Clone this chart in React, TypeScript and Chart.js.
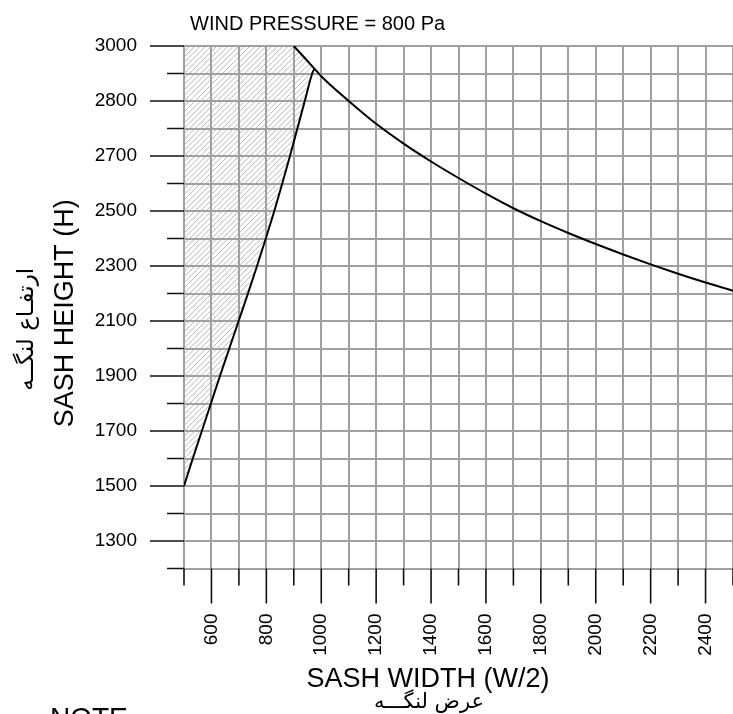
import React, { useEffect, useRef } from 'react';
import { Chart, registerables } from 'chart.js';

Chart.register(...registerables);

const TITLE = 'WIND PRESSURE = 800 Pa';
const X_TITLE = 'SASH WIDTH (W/2)';
const X_TITLE_FA = 'عرض لنگـــه';
const Y_TITLE = 'SASH HEIGHT (H)';
const Y_TITLE_FA = 'ارتفـاع لنگــه';
const NOTE = 'NOTE';

const X_MIN = 500;
const X_MAX = 2500;
const Y_MIN = 1200;
const Y_MAX = 3100;
const STEP = 100;

const xLabelValues = [600, 800, 1000, 1200, 1400, 1600, 1800, 2000, 2200, 2400];
const xLabelTexts = ['600', '800', '1000', '1200', '1400', '1600', '1800', '2000', '2200', '2400'];
const yLabelValues = [1300, 1500, 1700, 1900, 2100, 2300, 2500, 2700, 2900, 3100];
const yLabelTexts = ['1300', '1500', '1700', '1900', '2100', '2300', '2500', '2700', '2800', '3000'];

// rising limit curve (left)
const risingW = [500, 532, 565, 598, 631, 665, 699, 733, 766, 798, 829, 858, 886, 913, 940, 967, 975];
const risingH = [1500, 1600, 1700, 1800, 1900, 2000, 2100, 2200, 2300, 2400, 2500, 2600, 2700, 2800, 2900, 3000, 3018];
// falling limit curve (right)
const fallingW = [900, 975, 1000, 1100, 1200, 1300, 1400, 1500, 1600, 1700, 1800, 1900, 2000, 2100, 2200, 2300, 2400, 2500];
const fallingH = [3100, 3018, 2990, 2900, 2817, 2745, 2680, 2620, 2563, 2510, 2463, 2420, 2380, 2342, 2306, 2272, 2240, 2210];

const FONT = '"Liberation Sans", Arial, Helvetica, sans-serif';
const FA_FONT = '"DejaVu Sans", "Noto Sans", sans-serif';
const GRID = '#a0a0a0';

const hatchPlugin = {
  id: 'hatch',
  beforeDraw(chart: any) {
    const { ctx, chartArea } = chart;
    const xs = chart.scales.x;
    const ys = chart.scales.y;
    const poly: number[][] = [[X_MIN, Y_MAX], [fallingW[0], fallingH[0]], [fallingW[1], fallingH[1]]];
    for (let i = risingW.length - 2; i >= 0; i--) poly.push([risingW[i], risingH[i]]);
    ctx.save();
    ctx.beginPath();
    poly.forEach(([a, b], i) => {
      const px = xs.getPixelForValue(a);
      const py = ys.getPixelForValue(b);
      if (i === 0) ctx.moveTo(px, py);
      else ctx.lineTo(px, py);
    });
    ctx.closePath();
    ctx.clip();
    ctx.strokeStyle = '#b8b8b8';
    ctx.lineWidth = 1;
    const { left, top, right, bottom } = chartArea;
    const h = bottom - top;
    ctx.beginPath();
    for (let s = left - h; s < right; s += 5.5) {
      ctx.moveTo(s, bottom);
      ctx.lineTo(s + h, top);
    }
    ctx.stroke();
    ctx.restore();
  },
};

const tickPlugin = {
  id: 'tickMarks',
  afterDraw(chart: any) {
    const { ctx, chartArea } = chart;
    const xs = chart.scales.x;
    const ys = chart.scales.y;
    ctx.save();
    ctx.strokeStyle = '#111';
    ctx.lineWidth = 1.6;
    ctx.beginPath();
    xs.ticks.forEach((t: any) => {
      const px = xs.getPixelForValue(t.value);
      const len = t.label ? 35 : 17;
      ctx.moveTo(px, chartArea.bottom);
      ctx.lineTo(px, chartArea.bottom + len);
    });
    ys.ticks.forEach((t: any) => {
      const py = ys.getPixelForValue(t.value);
      const len = t.label ? 34 : 17;
      ctx.moveTo(chartArea.left - len, py);
      ctx.lineTo(chartArea.left, py);
    });
    ctx.stroke();
    ctx.restore();
  },
};

const textPlugin = {
  id: 'texts',
  afterDraw(chart: any) {
    const { ctx, chartArea } = chart;
    const L = chartArea.left;
    const T = chartArea.top;
    const B = chartArea.bottom;
    ctx.save();
    ctx.fillStyle = '#000';
    ctx.textBaseline = 'alphabetic';

    ctx.font = `20px ${FONT}`;
    ctx.textAlign = 'left';
    ctx.fillText(TITLE, L + 6, T - 16);

    ctx.font = `27px ${FONT}`;
    ctx.textAlign = 'center';
    ctx.fillText(X_TITLE, L + 244, B + 118);

    ctx.font = `21px ${FA_FONT}`;
    ctx.textBaseline = 'middle';
    ctx.fillText(X_TITLE_FA, L + 245, B + 134);

    ctx.save();
    ctx.translate(L - 111, (T + B) / 2 + 6);
    ctx.rotate(-Math.PI / 2);
    ctx.font = `27px ${FONT}`;
    ctx.textBaseline = 'alphabetic';
    ctx.textAlign = 'center';
    ctx.fillText(Y_TITLE, 0, 0);
    ctx.restore();

    ctx.save();
    ctx.translate(L - 157, (T + B) / 2 + 22);
    ctx.rotate(-Math.PI / 2);
    ctx.font = `23px ${FA_FONT}`;
    ctx.textBaseline = 'middle';
    ctx.textAlign = 'center';
    ctx.fillText(Y_TITLE_FA, 0, 0);
    ctx.restore();

    ctx.font = `28px ${FONT}`;
    ctx.textAlign = 'left';
    ctx.textBaseline = 'alphabetic';
    ctx.fillText(NOTE, 50, B + 158);
    ctx.restore();
  },
};

export default function App() {
  const ref = useRef<HTMLCanvasElement | null>(null);

  useEffect(() => {
    if (!ref.current) return;
    const chart = new Chart(ref.current, {
      type: 'line',
      data: {
        datasets: [
          {
            data: risingW.map((w, i) => ({ x: w, y: risingH[i] })),
            borderColor: '#000',
            borderWidth: 2,
            pointRadius: 0,
            cubicInterpolationMode: 'monotone',
            fill: false,
          },
          {
            data: fallingW.map((w, i) => ({ x: w, y: fallingH[i] })),
            borderColor: '#000',
            borderWidth: 2,
            pointRadius: 0,
            cubicInterpolationMode: 'monotone',
            fill: false,
          },
        ],
      },
      options: {
        responsive: false,
        animation: false,
        devicePixelRatio: 1,
        layout: { padding: { top: 46, left: 0, right: 0, bottom: 0 } },
        plugins: { legend: { display: false }, tooltip: { enabled: false }, title: { display: false } },
        scales: {
          x: {
            type: 'linear',
            min: X_MIN,
            max: X_MAX,
            ticks: {
              stepSize: STEP,
              autoSkip: false,
              maxRotation: 90,
              minRotation: 90,
              padding: 45,
              color: '#000',
              font: { family: FONT, size: 19 },
              callback: (v: any) => {
                const i = xLabelValues.indexOf(Math.round(Number(v)));
                return i >= 0 ? xLabelTexts[i] : '';
              },
            },
            grid: { color: GRID, lineWidth: 2, drawTicks: false },
            border: { display: false },
            afterFit: (s: any) => {
              s.height = 145.5;
              s.paddingLeft = 0;
              s.paddingRight = 0;
            },
          },
          y: {
            type: 'linear',
            min: Y_MIN,
            max: Y_MAX,
            ticks: {
              stepSize: STEP,
              autoSkip: false,
              padding: 47,
              color: '#000',
              font: { family: FONT, size: 19 },
              callback: (v: any) => {
                const i = yLabelValues.indexOf(Math.round(Number(v)));
                return i >= 0 ? yLabelTexts[i] : '';
              },
            },
            grid: { color: GRID, lineWidth: 2, drawTicks: false },
            border: { display: false },
            afterFit: (s: any) => {
              s.width = 184;
              s.paddingTop = 0;
              s.paddingBottom = 0;
            },
          },
        },
      },
      plugins: [hatchPlugin, tickPlugin, textPlugin],
    } as any);
    return () => chart.destroy();
  }, []);

  return (
    <div style={{ position: 'fixed', left: 0, top: 0, width: 733, height: 714, overflow: 'hidden', background: '#fff' }}>
      <canvas ref={ref} width={733} height={714} style={{ display: 'block' }} />
    </div>
  );
}
